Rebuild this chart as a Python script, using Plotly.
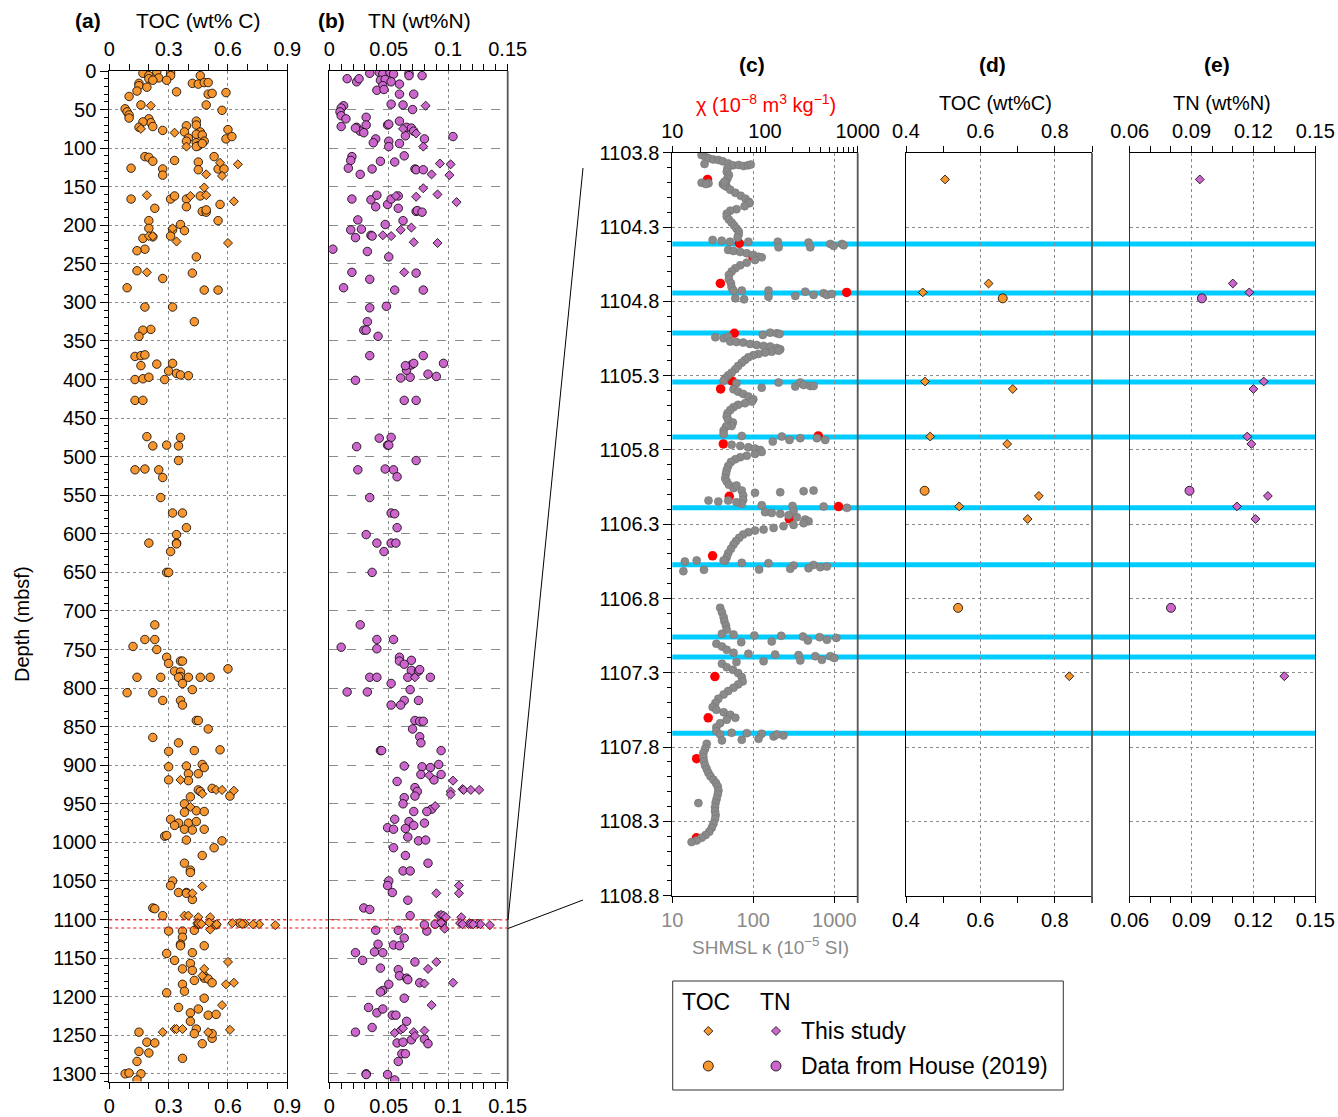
import plotly.graph_objects as go

W, H = 1338, 1117
def px(x): return x / W
def py(y): return 1 - y / H

# ---------------- Panel (a) TOC, Data from House (2019) ----------------
toc_house_depth = [3,6,1,10,9,12,2,6,12,6,16,17,15,15,16,19,21,26,27,30,29,28,33,44,44,49,53,57,61,51,62,67,72,77,66,73,65,70,71,79,82,83,79,87,91,93,91,97,98,94,88,76,85,
    111,112,117,126,127,135,116,118,128,111,127,127,166,166,162,166,162,176,173,178,182,183,180,194,194,199,206,204,207,214,217,215,231,233,241,259,262,269,281,284,284,
    306,306,325,335,336,344,370,369,368,382,380,379,389,392,394,395,400,399,397,400,
    427,427,474,475,486,485,486,505,517,516,517,527,553,573,573,592,601,612,612,613,623,650,650,718,737,737,746,750,760,768,765,765,778,779,785,786,786,786,786,786,786,775,
    794,802,806,806,816,816,822,842,842,853,864,871,882,881,880,
    902,901,899,903,911,911,919,920,932,934,930,940,941,950,961,959,960,970,975,975,973,978,983,984,983,992,991,997,998,1007,1017,1027,1036,1039,1050,1056,1065,1065,1074,1066,
    1085,1086,1095,1115,1115,1114,1123,1132,1134,1134,1144,1153,1143,1164,1157,1166,1173,1179,1176,1177,1182,1184,1193,1195,1202,1214,1221,1216,1224,1223,1232,1242,1248,1261,
    1254,1248,1246,1259,1260,1273,1271,1284,1300,1299,1300,1308,1280]
toc_house_val = [0.17,0.20,0.24,0.20,0.25,0.22,0.31,0.31,0.29,0.46,0.42,0.45,0.48,0.50,0.15,0.15,0.19,0.14,0.34,0.50,0.52,0.59,0.10,0.49,0.16,0.08,0.09,0.10,0.10,0.57,0.20,0.21,0.22,0.27,0.17,0.15,0.44,0.44,0.39,0.46,0.44,0.47,0.38,0.40,0.39,0.44,0.48,0.45,0.44,0.47,0.59,0.60,0.62,
    0.18,0.20,0.22,0.11,0.27,0.27,0.33,0.45,0.45,0.53,0.55,0.58,0.11,0.31,0.33,0.39,0.46,0.39,0.56,0.23,0.47,0.49,0.49,0.20,0.55,0.36,0.32,0.20,0.38,0.31,0.17,0.22,0.18,0.14,0.44,0.14,0.42,0.27,0.09,0.48,0.55,
    0.18,0.32,0.43,0.21,0.17,0.15,0.13,0.16,0.18,0.16,0.24,0.32,0.30,0.34,0.36,0.40,0.13,0.17,0.20,0.28,
    0.13,0.17,0.19,0.36,0.22,0.29,0.35,0.35,0.13,0.18,0.25,0.27,0.26,0.32,0.37,0.39,0.34,0.20,0.34,0.34,0.31,0.29,0.30,0.23,0.18,0.23,0.12,0.24,0.29,0.30,0.36,0.37,0.33,0.36,0.36,0.35,0.26,0.14,0.40,0.46,0.51,0.60,
    0.37,0.42,0.09,0.22,0.27,0.36,0.37,0.44,0.45,0.50,0.22,0.35,0.30,0.43,0.56,
    0.30,0.39,0.47,0.48,0.40,0.45,0.30,0.40,0.45,0.46,0.52,0.61,0.41,0.38,0.38,0.44,0.48,0.31,0.35,0.40,0.44,0.33,0.38,0.42,0.48,0.28,0.29,0.39,0.57,0.53,0.47,0.38,0.41,0.41,0.32,0.31,0.35,0.39,0.42,0.39,
    0.22,0.23,0.27,0.30,0.37,0.43,0.37,0.36,0.36,0.48,0.29,0.33,0.42,0.37,0.41,0.42,0.48,0.43,0.48,0.50,0.52,0.37,0.38,0.29,0.48,0.35,0.41,0.45,0.50,0.54,0.41,0.44,0.43,0.47,
    0.52,0.52,0.15,0.19,0.23,0.20,0.15,0.14,0.08,0.10,0.16,0.14,0.37]

# ---------------- Panel (a) TOC, This study ----------------
toc_this_depth = [45,75,80,98,119,121,134,136,151,161,161,162,169,204,214,214,221,223,261,919,937,932,932,933,954,1057,1066,1095,1095,1097,1097,1113,1155,1164,1173,1184,1182,1211,1246,1242,1242,1242,1246,1243]
toc_this_val = [0.21,0.16,0.33,0.39,0.56,0.65,0.49,0.57,0.48,0.19,0.49,0.41,0.63,0.32,0.20,0.22,0.34,0.60,0.19,0.36,0.47,0.54,0.57,0.63,0.41,0.47,0.42,0.38,0.40,0.45,0.51,0.51,0.60,0.48,0.47,0.59,0.63,0.57,0.27,0.33,0.34,0.37,0.50,0.61]

# ---------------- Panel (b) TN, Data from House (2019) ----------------
tn_house_depth = [3,2,4,2,4,3,6,6,10,14,10,12,11,14,17,19,25,24,30,30,43,44,50,45,48,53,58,62,72,73,60,70,78,80,74,70,69,65,73,74,84,94,91,98,88,93,88,85,78,
    111,116,126,134,127,117,118,110,127,128,128,166,167,176,161,173,166,178,162,182,181,183,193,206,205,216,213,214,199,194,231,234,241,261,270,281,284,262,284,
    307,305,325,336,336,344,369,369,379,393,396,401,398,397,388,381,382,379,
    427,427,476,475,487,485,485,505,517,516,517,526,553,573,574,592,601,612,612,612,623,650,718,737,737,747,749,760,764,765,769,777,778,776,786,786,786,786,794,802,805,805,816,816,822,822,
    842,843,843,853,863,871,881,881,881,
    901,902,903,899,912,912,919,921,929,934,940,942,950,957,960,960,970,973,978,975,981,983,982,993,998,997,1007,1017,1027,1037,1037,1050,1056,1065,1075,1085,1087,1095,
    1115,1114,1114,1124,1132,1133,1134,1143,1142,1143,1153,1155,1163,1165,1173,1176,1178,1182,1192,1184,1194,1202,1214,1221,1216,1224,1224,1232,1240,1246,1260,1259,1256,1255,1261,1274,1274,1284,1300,1301,1301,1308]
tn_house_val = [0.034,0.042,0.045,0.051,0.054,0.067,0.067,0.078,0.015,0.023,0.025,0.043,0.047,0.052,0.059,0.045,0.040,0.046,0.059,0.071,0.052,0.062,0.070,0.012,0.010,0.009,0.010,0.014,0.010,0.023,0.031,0.031,0.026,0.029,0.022,0.049,0.050,0.059,0.065,0.069,0.064,0.059,0.050,0.050,0.039,0.037,0.080,0.104,0.071,
    0.019,0.018,0.016,0.026,0.036,0.043,0.055,0.063,0.072,0.073,0.079,0.019,0.035,0.039,0.040,0.049,0.052,0.058,0.058,0.073,0.074,0.078,0.024,0.018,0.027,0.022,0.035,0.036,0.047,0.062,0.003,0.032,0.050,0.019,0.034,0.012,0.055,0.073,0.079,
    0.034,0.048,0.032,0.029,0.031,0.041,0.034,0.079,0.096,0.083,0.090,0.022,0.060,0.068,0.065,0.069,0.064,0.071,
    0.063,0.073,0.042,0.052,0.023,0.049,0.050,0.073,0.024,0.047,0.054,0.057,0.034,0.052,0.055,0.057,0.031,0.040,0.052,0.056,0.046,0.036,0.026,0.040,0.054,0.010,0.040,0.059,0.069,0.059,0.063,0.069,0.075,0.076,0.066,0.085,0.034,0.040,0.052,0.068,0.015,0.032,0.063,0.075,0.052,0.060,
    0.072,0.076,0.079,0.070,0.076,0.077,0.043,0.044,0.094,
    0.063,0.078,0.085,0.092,0.077,0.094,0.088,0.057,0.072,0.074,0.072,0.063,0.062,0.086,0.082,0.071,0.055,0.067,0.071,0.080,0.049,0.054,0.064,0.066,0.075,0.081,0.054,0.064,0.083,0.062,0.068,0.050,0.049,0.053,0.066,0.029,0.034,0.068,
    0.082,0.039,0.058,0.063,0.041,0.054,0.059,0.022,0.038,0.045,0.028,0.072,0.043,0.058,0.059,0.065,0.066,0.076,0.045,0.050,0.043,0.063,0.033,0.040,0.045,0.053,0.056,0.065,0.036,0.022,0.057,0.062,0.069,0.080,0.083,0.061,0.064,0.058,0.031,0.031,0.049,0.055]

# ---------------- Panel (b) TN, This study ----------------
tn_this_depth = [45,75,81,98,120,121,134,135,152,163,160,170,162,206,203,213,214,222,223,261,786,913,920,934,938,931,932,932,932,953,1056,1066,1066,1095,1094,1095,1097,1097,1112,1155,1164,1183,1182,1211,1247,1243,1241,1246,1244,1251]
tn_this_val = [0.081,0.062,0.073,0.079,0.093,0.102,0.086,0.101,0.079,0.073,0.091,0.107,0.056,0.060,0.069,0.045,0.052,0.071,0.091,0.063,0.072,0.084,0.104,0.102,0.102,0.112,0.113,0.119,0.126,0.089,0.109,0.090,0.109,0.092,0.094,0.096,0.098,0.111,0.097,0.090,0.083,0.080,0.104,0.086,0.055,0.060,0.062,0.071,0.080,0.072]

# ---------------- Detail interval (c, d, e) ----------------
detail_this_depth = [1103.98,1104.68,1104.74,1105.34,1105.39,1105.71,1105.76,1106.11,1106.18,1106.265,1107.323]
detail_this_toc = [0.505,0.622,0.445,0.451,0.687,0.465,0.672,0.757,0.543,0.727,0.839]
detail_this_tn = [0.094,0.110,0.118,0.125,0.120,0.117,0.119,0.127,0.112,0.121,0.135]
detail_house_depth = [1104.78,1106.075,1106.863]
detail_house_toc = [0.660,0.450,0.540]
detail_house_tn = [0.095,0.089,0.080]

chi_depth = [1103.98,1104.41,1104.50,1104.68,1104.74,1105.015,1105.336,1105.39,1105.706,1105.76,1106.112,1106.181,1106.264,1106.513,1107.325,1107.603,1107.878,1108.41]
chi_val = [24.0,52.8,74.1,33.0,760,46.7,44.0,33.2,376,35.5,41.2,622,183,27.2,28.8,24.4,18.3,18.2]

kappa_depth = [1103.816,1103.831,1103.838,1103.845,1103.849,1103.858,1103.872,1103.885,1103.883,1103.890,1103.885,1103.880,1103.876,1103.905,1103.928,1103.950,1103.972,1103.994,1104.011,1104.029,1104.002,1104.006,1104.011,1104.011,1104.020,1103.996,
    1104.05,1104.07,1104.09,1104.11,1104.13,1104.14,1104.16,1104.18,1104.19,1104.21,1104.23,1104.25,1104.27,1104.29,1104.31,1104.33,1104.35,1104.37,
    1104.387,1104.392,1104.399,1104.399,1104.399,1104.437,1104.405,1104.437,1104.414,1104.428,1104.414,1104.423,
    1104.455,1104.461,1104.468,1104.477,1104.488,1104.500,1104.504,1104.522,1104.540,1104.558,1104.578,1104.600,1104.623,1104.652,1104.679,1104.706,1104.728,
    1104.728,1104.728,1104.769,1104.764,1104.735,1104.757,1104.746,1104.757,1104.751,1104.780,1104.787,
    1105.042,1105.049,1105.026,1105.011,1105.015,1105.020,1105.038,
    1105.071,1105.074,1105.078,1105.087,1105.094,1105.100,1105.105,1105.114,1105.123,1105.132,1105.139,1105.145,1105.154,1105.163,1105.177,1105.195,1105.213,1105.235,1105.257,1105.280,1105.298,1105.318,1105.334,
    1105.352,1105.381,1105.347,1105.374,1105.347,1105.363,1105.370,1105.370,
    1105.392,1105.408,1105.423,1105.441,1105.459,1105.475,1105.486,1105.497,1105.513,1105.531,1105.553,1105.576,1105.598,1105.616,1105.639,1105.643,1105.670,1105.692,
    1105.706,1105.744,1105.710,1105.733,1105.721,1105.721,1105.733,
    1105.766,1105.773,1105.782,1105.791,1105.800,1105.814,1105.827,1105.840,1105.849,1105.863,1105.881,1105.908,1105.935,1105.961,1105.991,1106.013,1106.035,1106.058,
    1106.040,1106.074,1106.107,1106.136,1106.163,
    1106.089,1106.085,1106.078,1106.074,
    1106.141,1106.148,1106.141,1106.152,
    1106.172,1106.177,1106.213,1106.181,1106.190,
    1106.219,1106.224,1106.230,1106.239,1106.253,1106.269,1106.280,1106.293,1106.305,1106.313,1106.325,1106.336,1106.343,1106.354,1106.370,1106.392,1106.414,1106.437,1106.466,1106.495,1106.522,1106.544,
    1106.551,1106.544,1106.544,1106.560,1106.562,1106.578,1106.574,1106.589,1106.585,1106.616,1106.607,1106.605,1106.600,1106.596,
    1106.863,1106.892,1106.926,1106.953,1106.982,1107.011,1107.038,1107.042,
    1107.049,1107.051,1107.056,1107.083,1107.060,1107.078,1107.065,1107.094,1107.089,
    1107.105,1107.123,1107.145,1107.165,
    1107.172,1107.177,1107.181,1107.188,1107.188,1107.201,1107.228,1107.222,1107.217,1107.213,
    1107.239,1107.262,1107.280,1107.302,1107.329,1107.358,1107.378,1107.401,1107.423,1107.446,1107.475,1107.504,1107.531,1107.549,1107.565,1107.583,1107.603,1107.616,1107.639,1107.666,1107.692,1107.715,
    1107.704,1107.706,1107.710,1107.728,1107.722,1107.751,1107.744,1107.755,1107.715,
    1107.778,1107.811,1107.840,1107.867,1107.896,1107.923,1107.948,1107.973,1107.997,1108.020,1108.042,1108.065,1108.092,1108.118,1108.148,1108.174,1108.204,1108.231,1108.257,1108.284,1108.316,1108.343,1108.370,1108.392,1108.410,1108.428,1108.439,1108.177]
kappa_si = [23,26,28,32,37,42,49,56,66,76,86,93,25,48,47,50,48,46,45,47,23,28,26,42,44,44,
    52,60,70,80,88,90,78,62,52,47,47,50,54,58,62,66,66,64,
    31.5,40.7,51.6,87,201,205,481,505,893,982,1245,1304,
    49,57,69,83,100,116,127,105,83,69,60,54,50,50,53,54,57,
    72,154,154,330,438,555,738,811,935,60,77,
    34,43,131,162,195,211,49,
    52,62,75,91,110,134,162,195,215,205,169,140,116,100,87,79,72,65,60,54,49,45,43,
    62,127,205,330,380,418,505,555,
    57,65,75,87,100,96,79,65,57,52,48,47,49,56,54,46,43,43,
    72,174,225,280,380,611,774,
    54,69,87,105,122,127,105,83,69,60,53,49,47,46,45,47,50,57,
    62,72,75,75,72,
    105,215,418,555,
    28,37,49,62,
    127,305,314,738,1435,
    140,169,215,272,345,438,481,418,314,236,178,134,105,87,75,67,61,57,53,49,47,45,
    14.3,20,43,72,154,314,555,671,811,13.7,24.6,118,286,481,
    39,41,43,44,46,47,41,57,
    103,221,410,472,659,811,1059,71,169,
    35,41,47,57,
    87,186,362,582,893,1000,62,134,380,703,
    41,47,56,65,72,74,65,57,49,43,37,34,31.5,35,43,52,60,47,39,35,35,39,
    54,83,127,178,236,72,116,41,195,
    26.6,25.4,24.2,24.2,24.6,25.4,26.6,27.9,29.6,32.2,34.6,36.4,37.1,36.4,35.3,34.3,33.7,33.7,34.3,33.7,32.2,30.7,28.6,25.8,23,20,17.3,21]

tephra_depths = [1104.414,1104.744,1105.013,1105.343,1105.713,1106.189,1106.573,1107.059,1107.194,1107.707]
zoom_window = [1100.5, 1111.0]

# ---------------- styling ----------------
ORANGE = '#F7962F'
PURPLE = '#CC66CC'
FONT = 'Liberation Sans, Arial, Helvetica, sans-serif'
GRID = '#8c8c8c'
TICK_SIZE = 20

def circ(color, size=8.5):
    return dict(symbol='circle', size=size, color=color, line=dict(color='black', width=0.8))
def diam(color, size=7):
    return dict(symbol='diamond', size=size, color=color, line=dict(color='black', width=0.8))

fig = go.Figure()
def sc(x, y, xa, ya, marker):
    fig.add_trace(go.Scatter(x=x, y=y, xaxis=xa, yaxis=ya, mode='markers', marker=marker,
                             showlegend=False, hoverinfo='skip'))
def dummy(xa, ya):
    fig.add_trace(go.Scatter(x=[None], y=[None], xaxis=xa, yaxis=ya, mode='markers', showlegend=False, hoverinfo='skip'))

# panel a
sc(toc_house_val, toc_house_depth, 'x', 'y', circ(ORANGE))
sc(detail_house_toc, detail_house_depth, 'x', 'y', circ(ORANGE))
sc(toc_this_val, toc_this_depth, 'x', 'y', diam(ORANGE))
sc(detail_this_toc, detail_this_depth, 'x', 'y', diam(ORANGE))
dummy('x2', 'y')
# panel b
sc(tn_house_val, tn_house_depth, 'x3', 'y2', circ(PURPLE))
sc(detail_house_tn, detail_house_depth, 'x3', 'y2', circ(PURPLE))
sc(tn_this_val, tn_this_depth, 'x3', 'y2', diam(PURPLE))
sc(detail_this_tn, detail_this_depth, 'x3', 'y2', diam(PURPLE))
dummy('x4', 'y2')
# panel c
sc(kappa_si, kappa_depth, 'x6', 'y3', dict(symbol='circle', size=8, color='#8a8a8a', line=dict(color='#767676', width=0.6)))
sc(chi_val, chi_depth, 'x5', 'y3', dict(symbol='circle', size=9.5, color='#FF0000', line=dict(width=0)))
# panel d
sc(detail_house_toc, detail_house_depth, 'x7', 'y4', circ(ORANGE, 9))
sc(detail_this_toc, detail_this_depth, 'x7', 'y4', diam(ORANGE, 6.8))
dummy('x8', 'y4')
# panel e
sc(detail_house_tn, detail_house_depth, 'x9', 'y5', circ(PURPLE, 9))
sc(detail_this_tn, detail_this_depth, 'x9', 'y5', diam(PURPLE, 6.8))
dummy('x10', 'y5')

tickfont = dict(family=FONT, size=TICK_SIZE, color='black')

def xax(dom, rng, side, anchor, dtick=None, tick0=None, minor_dtick=None, grid=False, overlay=None,
        log=False, tickvals=None, minor_vals=None, fontcolor='black', linecolor='black'):
    d = dict(domain=dom, range=rng, side=side, anchor=anchor, showline=True, linecolor=linecolor, linewidth=1,
             ticks='outside', ticklen=6, tickwidth=1, tickcolor='black', zeroline=False,
             tickfont=dict(family=FONT, size=TICK_SIZE, color=fontcolor), showgrid=grid,
             gridcolor=GRID, griddash='dot', gridwidth=1, automargin=False)
    if log:
        d['type'] = 'log'
    if tickvals is not None:
        d['tickmode'] = 'array'; d['tickvals'] = tickvals; d['ticktext'] = [str(v) for v in tickvals]
    else:
        d['tick0'] = tick0; d['dtick'] = dtick
    if minor_dtick is not None:
        d['minor'] = dict(ticks='outside', ticklen=6, tickcolor='black', dtick=minor_dtick, tick0=tick0, showgrid=False)
    if minor_vals is not None:
        d['minor'] = dict(ticks='outside', ticklen=5, tickcolor='black', tickmode='array', tickvals=minor_vals, showgrid=False)
    if overlay:
        d['overlaying'] = overlay
    return d

A = [px(109.3), px(287.3)]
B = [px(329.3), px(507.7)]
C = [px(672.3), px(857.7)]
D = [px(906.0), px(1092.0)]
E = [px(1129.7), px(1315.3)]
Ydom_ab = [py(1081.5), py(71.0)]
Ydom_cde = [py(895.7), py(152.7)]
depth_range = [1310, 0]
detail_range = [1108.8, 1103.8]

chi_minor = [m * 10 ** k for k in (1, 2) for m in range(2, 10)]

layout = dict(
    width=W, height=H, margin=dict(l=0, r=0, t=0, b=0, pad=0, autoexpand=False),
    paper_bgcolor='white', plot_bgcolor='rgba(0,0,0,0)', showlegend=False,
    font=dict(family=FONT, size=16, color='black'),
    xaxis=xax(A, [0, 0.9], 'top', 'y', dtick=0.3, tick0=0, minor_dtick=0.1, grid=True),
    xaxis2=xax(A, [0, 0.9], 'bottom', 'y', dtick=0.3, tick0=0, minor_dtick=0.1, overlay='x'),
    xaxis3=xax(B, [0, 0.15], 'top', 'y2', dtick=0.05, tick0=0, minor_dtick=0.01, grid=True),
    xaxis4=xax(B, [0, 0.15], 'bottom', 'y2', dtick=0.05, tick0=0, minor_dtick=0.01, overlay='x3'),
    xaxis5=xax(C, [1, 3], 'top', 'y3', log=True, tickvals=[10, 100, 1000], minor_vals=chi_minor),
    xaxis6=xax(C, [1, 3.289], 'bottom', 'y3', log=True, tickvals=[10, 100, 1000], grid=True, overlay='x5', fontcolor='#8a8a8a'),
    xaxis7=xax(D, [0.4, 0.9], 'top', 'y4', dtick=0.2, tick0=0.4, minor_dtick=0.1, grid=True),
    xaxis8=xax(D, [0.4, 0.9], 'bottom', 'y4', dtick=0.2, tick0=0.4, minor_dtick=0.1, overlay='x7'),
    xaxis9=xax(E, [0.06, 0.15], 'top', 'y5', dtick=0.03, tick0=0.06, minor_dtick=0.01, grid=True),
    xaxis10=xax(E, [0.06, 0.15], 'bottom', 'y5', dtick=0.03, tick0=0.06, minor_dtick=0.01, overlay='x9'),
    yaxis=dict(domain=Ydom_ab, range=depth_range, anchor='x', side='left', showline=True, linecolor='black', linewidth=1,
               mirror=True, ticks='outside', ticklen=8, tickcolor='black', tick0=0, dtick=50, tickfont=tickfont,
               minor=dict(ticks='outside', ticklen=4, tickcolor='black', dtick=10, tick0=0, showgrid=False),
               showgrid=True, gridcolor=GRID, griddash='dot', gridwidth=1, zeroline=False, automargin=False),
    yaxis2=dict(domain=Ydom_ab, range=depth_range, anchor='x3', showline=True, linecolor='black', linewidth=1,
                showticklabels=False, ticks='', tick0=0, dtick=50, showgrid=True, gridcolor=GRID, griddash='dash',
                gridwidth=1, zeroline=False, automargin=False),
    yaxis3=dict(domain=Ydom_cde, range=detail_range, anchor='x5', side='left', showline=True, linecolor='black', linewidth=1,
                ticks='outside', ticklen=8, tickcolor='black', tick0=1103.8, dtick=0.5, tickformat='.1f', tickfont=tickfont,
                minor=dict(ticks='outside', ticklen=4, tickcolor='black', dtick=0.1, tick0=1103.8, showgrid=False),
                showgrid=True, gridcolor=GRID, griddash='dot', gridwidth=1, zeroline=False, automargin=False),
    yaxis4=dict(domain=Ydom_cde, range=detail_range, anchor='x7', showline=True, linecolor='black', linewidth=1,
                showticklabels=False, ticks='', tick0=1103.8, dtick=0.5, showgrid=True, gridcolor=GRID, griddash='dot',
                gridwidth=1, zeroline=False, automargin=False),
    yaxis5=dict(domain=Ydom_cde, range=detail_range, anchor='x9', showline=True, linecolor='#333', linewidth=1.2,
                mirror=True, showticklabels=False, ticks='', tick0=1103.8, dtick=0.5, showgrid=True, gridcolor=GRID,
                griddash='dot', gridwidth=1, zeroline=False, automargin=False),
)
fig.update_layout(**layout)

shapes = []
# right-hand border lines (dark grey)
for xr, y0, y1 in [(507.7, 71.0, 1081.5), (857.7, 152.7, 903.0), (1092.0, 152.7, 903.0)]:
    shapes.append(dict(type='line', xref='paper', yref='paper', x0=px(xr), x1=px(xr), y0=py(y1), y1=py(y0),
                       line=dict(color='#555555', width=1.8), layer='above'))
# tephra layers (cyan)
for dpt in tephra_depths:
    shapes.append(dict(type='line', xref='paper', yref='y3', x0=px(672.3), x1=px(1315.3), y0=dpt, y1=dpt,
                       line=dict(color='#00CCFF', width=5), layer='below'))
# zoom window in panels a-b
for dpt in zoom_window:
    shapes.append(dict(type='line', xref='paper', yref='y', x0=px(109.3), x1=px(507.7), y0=dpt, y1=dpt,
                       line=dict(color='#FF0000', width=1, dash='dot'), layer='above'))
# connector lines to panel c
shapes.append(dict(type='line', xref='paper', yref='paper', x0=px(508), y0=py(920), x1=px(583), y1=py(168),
                   line=dict(color='black', width=1)))
shapes.append(dict(type='line', xref='paper', yref='paper', x0=px(508), y0=py(928.5), x1=px(583), y1=py(900),
                   line=dict(color='black', width=1)))
# legend box
shapes.append(dict(type='rect', xref='paper', yref='paper', x0=px(672.7), x1=px(1063.3), y0=py(1090), y1=py(981),
                   line=dict(color='#333', width=1), fillcolor='white'))
def leg_diamond(cx, cy, color, r=4.5):
    path = (f"M {px(cx)},{py(cy - r)} L {px(cx + r)},{py(cy)} L {px(cx)},{py(cy + r)} L {px(cx - r)},{py(cy)} Z")
    return dict(type='path', xref='paper', yref='paper', path=path, fillcolor=color, line=dict(color='black', width=0.8))
def leg_circle(cx, cy, color, r=5):
    return dict(type='circle', xref='paper', yref='paper', x0=px(cx - r), x1=px(cx + r), y0=py(cy + r), y1=py(cy - r),
                fillcolor=color, line=dict(color='black', width=0.8))
shapes += [leg_diamond(708.3, 1031, ORANGE), leg_diamond(776, 1031, PURPLE),
           leg_circle(708.3, 1066, ORANGE), leg_circle(776, 1066, PURPLE)]
fig.update_layout(shapes=shapes)

ann = []
def txt(x, y, s, size=21, color='black', bold=False, xanchor='center', angle=0):
    ann.append(dict(x=px(x), y=py(y), xref='paper', yref='paper', text=(f'<b>{s}</b>' if bold else s),
                    showarrow=False, xanchor=xanchor, yanchor='middle', textangle=angle,
                    font=dict(family=FONT, size=size, color=color)))
txt(88, 20, '(a)', bold=True)
txt(198, 20, 'TOC (wt% C)')
txt(331, 20, '(b)', bold=True)
txt(419, 20, 'TN (wt%N)')
txt(752, 65, '(c)', bold=True)
txt(992, 65, '(d)', bold=True)
txt(1217, 65, '(e)', bold=True)
txt(766, 103, 'χ (10<sup>−8</sup> m<sup>3</sup> kg<sup>−1</sup>)', size=20, color='#FF0000')
txt(995, 103, 'TOC (wt%C)', size=20)
txt(1222, 103, 'TN (wt%N)', size=20)
txt(770, 946, 'SHMSL κ (10<sup>−5</sup> SI)', size=19, color='#8a8a8a')
txt(22, 624, 'Depth (mbsf)', size=20, angle=-90)
txt(706, 1002, 'TOC', size=23)
txt(775, 1002, 'TN', size=23)
txt(799, 1031, 'This study', size=23, xanchor='left')
txt(799, 1066, 'Data from House (2019)', size=23, xanchor='left')
fig.update_layout(annotations=ann)

fig.write_html('out.html', config={'displayModeBar': False},
               post_script="document.body.style.margin='0px';document.body.style.padding='0px';")
